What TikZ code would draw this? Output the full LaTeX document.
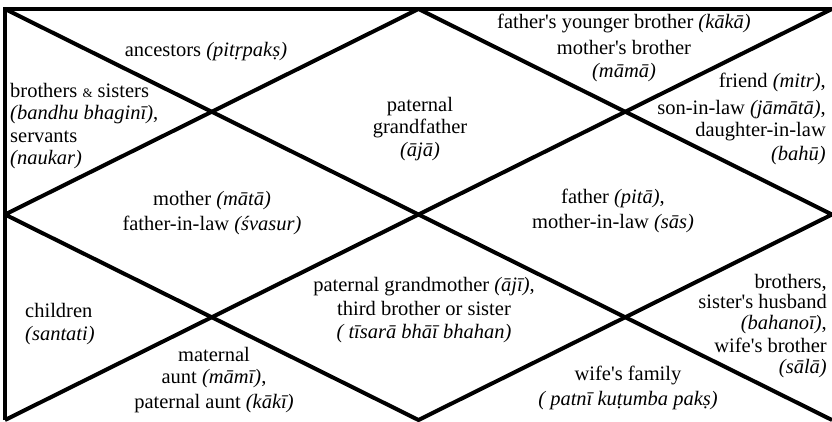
\documentclass[tikz,border=0pt]{standalone}
\usepackage{fontspec}
\setmainfont{Liberation Serif}
\usepackage{tikz}
\usetikzlibrary{calc}
\pgfkeys{tikz/chartenv/.style={x=1pt,y=-1pt,line join=round}}
\pgfkeys{tikz/chartline/.style={line width=4pt}}
\pgfkeys{tikz/housetext/.style={inner sep=0pt,font=\fontsize{20.5}{22.5}\selectfont}}
\newcommand\hname[1]{\textit{(#1)}}
\newcommand\smallamp{{\fontsize{13}{13}\selectfont\&}}
\newcommand\ap{\textquotesingle}

\begin{document}
\begin{tikzpicture}[chartenv]
    \useasboundingbox (0,0) rectangle (832,421);
    \coordinate (tl) at (5,9);
    \coordinate (tr) at (832,9);
    \coordinate (bl) at (5,420);
    \coordinate (br) at (832,420);
    \coordinate (tm) at ($(tl)!0.5!(tr)$);
    \coordinate (bm) at ($(bl)!0.5!(br)$);
    \coordinate (lm) at ($(tl)!0.5!(bl)$);
    \coordinate (rm) at ($(tr)!0.5!(br)$);
    % frame, diagonals and diamond
    \draw[chartline,line join=miter] (bl) -- (tl) -- (tr);
    \draw[chartline] (tl) -- (br);
    \draw[chartline] (tr) -- (bl);
    \draw[chartline] (tm) -- (rm) -- (bm) -- (lm) -- cycle;
    % houses
    \node[housetext] (ancestors) at (206,52) {ancestors \hname{pitṛpakṣ}};
    \node[housetext,align=left,anchor=west] (siblings) at (10,126)
        {brothers \smallamp{} sisters\\\hname{bandhu bhaginī},\\servants\\\hname{naukar}};
    \node[housetext,align=center] (grandfather) at (420,129) {paternal\\grandfather\\\hname{ājā}};
    \node[housetext,align=center] (mother) at (212,213) {mother \hname{mātā}\\[3pt]father-in-law \hname{śvasur}};
    \node[housetext,align=center] (uncles) at (624,48)
        {father\ap s younger brother \hname{kākā}\\[3pt]mother\ap s brother\\[1pt]\hname{māmā}};
    \node[housetext,align=right,anchor=east] (friends) at (826,119)
        {friend \hname{mitr},\\[4pt]son-in-law \hname{jāmātā},\\daughter-in-law\\[1pt]\hname{bahū}};
    \node[housetext,align=center] (father) at (613,211) {father \hname{pitā},\\[3pt]mother-in-law \hname{sās}};
    \node[housetext,align=left,anchor=west] (children) at (25,324) {children\\\hname{santati}};
    \node[housetext,align=center] (grandmother) at (424,310)
        {paternal grandmother \hname{ājī},\\[2pt]third brother or sister\\\hname{\ tīsarā bhāī bhahan}};
    \node[housetext,align=center] (aunts) at (214,380) {maternal\\aunt \hname{māmī},\\[2pt]paternal aunt \hname{kākī}};
    \node[housetext,align=right,anchor=east] (inlaws) at (827,326)
        {brothers,\\[-2pt]sister\ap s husband\\[-2pt]\hname{bahanoī},\\[1pt]wife\ap s brother\\[-2pt]\hname{sālā}};
    \node[housetext,align=center] (wifefamily) at (628,388) {wife\ap s family\\[3pt]\hname{\ patnī kuṭumba pakṣ}};
\end{tikzpicture}
\end{document}
